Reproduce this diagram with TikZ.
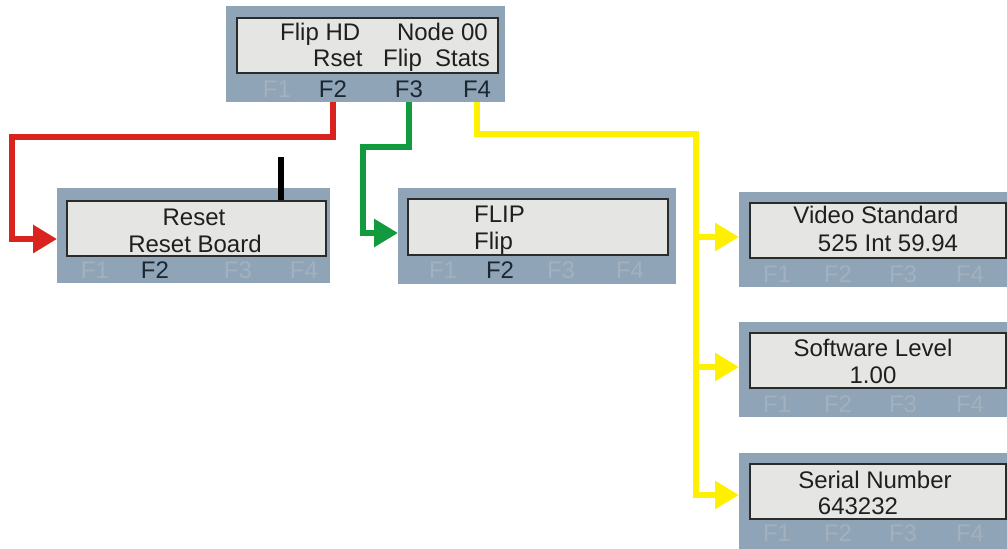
\documentclass[tikz,border=0pt]{standalone}
\usepackage{fontspec}
\setmainfont{Liberation Sans}
\usetikzlibrary{arrows.meta}
\definecolor{panelc}{HTML}{8FA5B7}
\definecolor{screenc}{HTML}{E5E5E3}
\definecolor{borderc}{HTML}{2B2B2B}
\definecolor{fdimc}{HTML}{A3B0BD}
\definecolor{fdarkc}{HTML}{1B2633}
\definecolor{redc}{HTML}{D8231E}
\definecolor{greenc}{HTML}{129A3E}
\definecolor{yelc}{HTML}{FFEF00}
\tikzset{
  panel/.style={fill=panelc, draw=none, inner sep=0pt, anchor=north west},
  screen/.style={fill=screenc, draw=borderc, line width=1.5pt, inner sep=0pt, anchor=north west},
  txt/.style={font=\fontsize{24}{24}\selectfont, text=black!88, inner sep=0pt, anchor=base},
  fkeyon/.style={txt, text=fdarkc},
  fkeyoff/.style={txt, text=fdimc},
  conn/.style={line width=6pt},
  tip/.style={-{Triangle[length=24pt,width=27pt]}}
}
\begin{document}
\begin{tikzpicture}[x=1pt,y=-1pt]
\useasboundingbox (0,0) rectangle (1007,549);
\clip (0,0) rectangle (1007,549);
\fill[white] (0,0) rectangle (1007,549);
% top panel
\node[panel, minimum width=279pt, minimum height=96pt] (p0) at (226,6) {};
\node[screen, minimum width=261pt, minimum height=55pt] (s0) at (236,17) {};
\node[txt, anchor=base west] (t0a) at (280,40.5) {Flip HD};
\node[txt, anchor=base east] (t0b) at (488,40.5) {Node 00};
\node[txt, anchor=base west] (t0c) at (313,66) {Rset};
\node[txt, anchor=base west] (t0d) at (383,66) {Flip};
\node[txt, anchor=base west] (t0e) at (435,66) {Stats};
\node[fkeyoff] (f01) at (277,97.5) {F1};
\node[fkeyon] (f02) at (333,97.5) {F2};
\node[fkeyon] (f03) at (409,97.5) {F3};
\node[fkeyon] (f04) at (477,97.5) {F4};
% reset panel
\node[panel, minimum width=273pt, minimum height=95pt] (p1) at (57,188) {};
\node[screen, minimum width=259pt, minimum height=55pt] (s1) at (66,200) {};
\node[txt] (t1a) at (194,225) {Reset};
\node[txt] (t1b) at (195,252) {Reset Board};
\node[fkeyoff] (f11) at (95,278.5) {F1};
\node[fkeyon] (f12) at (155,278.5) {F2};
\node[fkeyoff] (f13) at (238,278.5) {F3};
\node[fkeyoff] (f14) at (304,278.5) {F4};
% flip panel
\node[panel, minimum width=278pt, minimum height=96pt] (p2) at (398,188) {};
\node[screen, minimum width=260pt, minimum height=56pt] (s2) at (407,198) {};
\node[txt, anchor=base west] (t2a) at (474,222) {FLIP};
\node[txt, anchor=base west] (t2b) at (474,249) {Flip};
\node[fkeyoff] (f21) at (443,278) {F1};
\node[fkeyon] (f22) at (500,278) {F2};
\node[fkeyoff] (f23) at (561,278) {F3};
\node[fkeyoff] (f24) at (630,278) {F4};
% video standard panel
\node[panel, minimum width=290pt, minimum height=95pt] (p3) at (739,192) {};
\node[screen, minimum width=256pt, minimum height=55pt] (s3) at (749,202) {};
\node[txt] (t3a) at (876,223) {Video Standard};
\node[txt] (t3b) at (888,251) {525 Int 59.94};
\node[fkeyoff] (f31) at (777,282) {F1};
\node[fkeyoff] (f32) at (838,282) {F2};
\node[fkeyoff] (f33) at (903,282) {F3};
\node[fkeyoff] (f34) at (970,282) {F4};
% software level panel
\node[panel, minimum width=290pt, minimum height=95pt] (p4) at (739,322) {};
\node[screen, minimum width=256pt, minimum height=55pt] (s4) at (749,332) {};
\node[txt] (t4a) at (873,356) {Software Level};
\node[txt] (t4b) at (873,383) {1.00};
\node[fkeyoff] (f41) at (777,412) {F1};
\node[fkeyoff] (f42) at (838,412) {F2};
\node[fkeyoff] (f43) at (903,412) {F3};
\node[fkeyoff] (f44) at (970,412) {F4};
% serial number panel
\node[panel, minimum width=290pt, minimum height=110pt] (p5) at (739,453) {};
\node[screen, minimum width=256pt, minimum height=55pt] (s5) at (749,463) {};
\node[txt] (t5a) at (875,488) {Serial Number};
\node[txt] (t5b) at (858,514) {643232};
\node[fkeyoff] (f51) at (777,541) {F1};
\node[fkeyoff] (f52) at (838,541) {F2};
\node[fkeyoff] (f53) at (903,541) {F3};
\node[fkeyoff] (f54) at (970,541) {F4};
% connectors
\draw[conn, draw=redc, tip] (f02 |- p0.south) -- (f02 |- 0,137) -- (12,137) -- (12,239) -- (p1.west |- 0,239);
\draw[conn, draw=greenc, tip] (f03 |- p0.south) -- (f03 |- 0,147) -- (363,147) -- (363,233) -- (p2.west |- 0,233);
\draw[conn, draw=yelc, tip] (f04 |- p0.south) -- (f04 |- 0,134) -- (696,134) -- (696,495) -- (p5.west |- 0,495);
\draw[conn, draw=yelc, tip] (696,237) -- (p3.west |- 0,237);
\draw[conn, draw=yelc, tip] (696,367) -- (p4.west |- 0,367);
% black bar
\coordinate (bartop) at (281,157);
\draw[conn, draw=black] (bartop) -- (bartop |- s1.north);
\end{tikzpicture}
\end{document}
